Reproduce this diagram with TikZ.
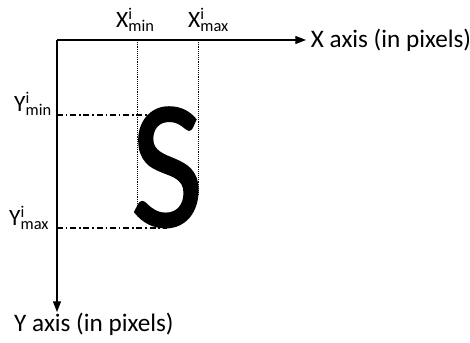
\documentclass[tikz,border=0pt]{standalone}
\usepackage{fontspec}
\setmainfont{Carlito}
\usetikzlibrary{arrows.meta, positioning}

\newcommand{\supsub}[3]{#1\rlap{\textsuperscript{#2}}\textsubscript{#3}}
\newcommand{\heavytext}[1]{\special{pdf:literal 2 Tr 2 w}#1\special{pdf:literal 0 Tr}}

\begin{document}
\begin{tikzpicture}[
    x=0.03cm, y=-0.03cm,
    axis/.style={-{Triangle[length=3.2mm, width=2.4mm]}, line width=1.1pt},
    guide/.style={densely dotted, line width=0.6pt},
    level/.style={dash pattern=on 5pt off 2.5pt on 1.3pt off 2.5pt, line width=0.9pt},
    axislabel/.style={font=\fontsize{21.5}{23}\selectfont, inner sep=0pt},
    boundlabel/.style={font=\fontsize{20}{22}\selectfont, inner sep=0pt},
    glyph/.style={font=\fontsize{156}{158}\selectfont, inner sep=0pt}
]

\useasboundingbox (0,0) rectangle (470,343);

\coordinate (origin) at (57,40);
\coordinate (xtip) at (306,40);
\coordinate (ytip) at (57,312);

\coordinate (xmintop) at (137,40);
\coordinate (xminbot) at (137,208);
\coordinate (xmaxtop) at (198,40);
\coordinate (xmaxbot) at (198,195);
\coordinate (yminleft) at (57,115);
\coordinate (yminright) at (167,115);
\coordinate (ymaxleft) at (57,228);
\coordinate (ymaxright) at (167,228);

\node[glyph, anchor=base, xscale=0.86] (letter) at (167,226) {\heavytext{S}};

\draw[guide] (xmintop) -- (xminbot);
\draw[guide] (xmaxtop) -- (xmaxbot);
\draw[level] (yminleft) -- (yminright);
\draw[level] (ymaxleft) -- (ymaxright);

\draw[axis] (origin) -- (xtip);
\draw[axis] (origin) -- (ytip);

\node[axislabel, right=4pt of xtip] (xlabel) {X axis (in pixels)};
\node[axislabel, anchor=base west] (ylabel) at (14,332) {Y axis (in pixels)};

\node[boundlabel, anchor=base west] (xminlabel) at (116,28) {\supsub{X}{i}{min}};
\node[boundlabel, anchor=base west] (xmaxlabel) at (188,28) {\supsub{X}{i}{max}};
\node[boundlabel, anchor=base west] (yminlabel) at (14,112) {\supsub{Y}{i}{min}};
\node[boundlabel, anchor=base west] (ymaxlabel) at (9,226) {\supsub{Y}{i}{max}};

\end{tikzpicture}
\end{document}
